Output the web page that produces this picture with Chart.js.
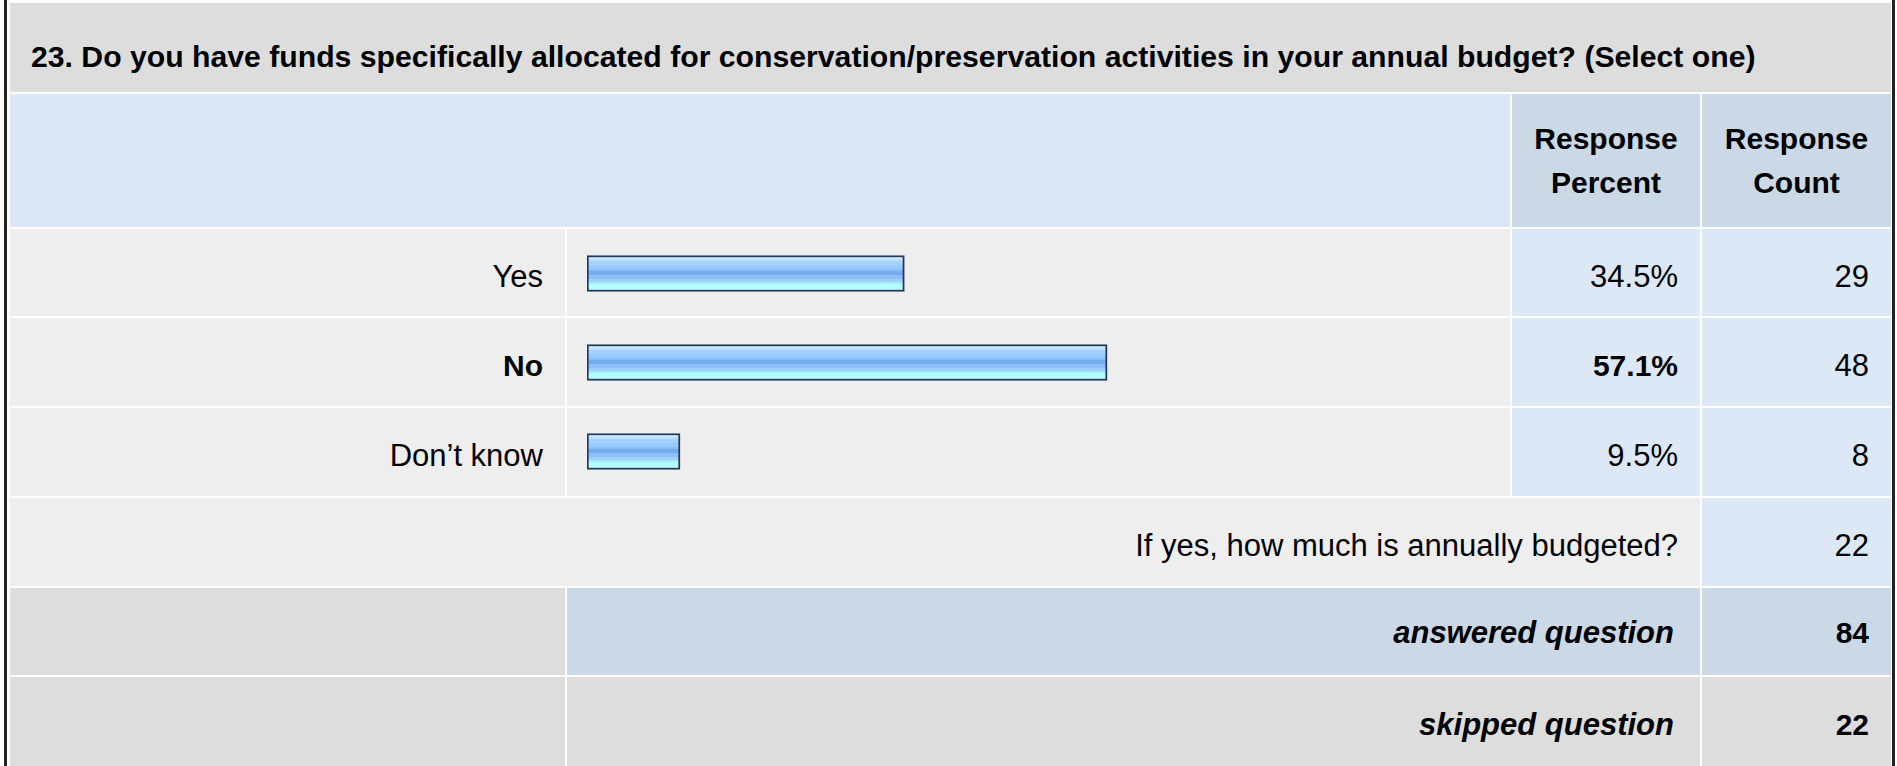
<!DOCTYPE html>
<html><head><meta charset="utf-8">
<script src="https://cdn.jsdelivr.net/npm/chart.js@4.4.1/dist/chart.umd.min.js"></script>
<style>
html,body{margin:0;padding:0;background:#fff;width:1897px;height:766px;overflow:hidden;font-family:"Liberation Sans",Arial,Helvetica,sans-serif;color:#000}
.c{position:absolute;display:flex;align-items:center;box-sizing:border-box;font-size:31px;white-space:nowrap}
.r{justify-content:flex-end;padding-right:22px}
.l{justify-content:flex-start;padding-left:21px}
.ctr{justify-content:center;text-align:center;line-height:44px}
.b{font-weight:bold;font-size:30px}
.i{font-style:italic;font-size:31px;padding-right:26px}
.frame{position:absolute;top:0;height:766px;width:3px;background:#222}
#chartBox{position:absolute;left:587px;top:229px;width:905px;height:267px}
</style></head><body>
<div id="root"></div>
<div class="frame" style="left:4px"></div><div class="frame" style="left:1892px"></div>
<div id="chartBox"><canvas id="chart"></canvas></div>
<script>
// ---- data ----
const questionTitle = "23. Do you have funds specifically allocated for conservation/preservation activities in your annual budget? (Select one)";
const categories = ["Yes", "No", "Don\u2019t know"];
const responsePercent = [34.5, 57.1, 9.5];
const responseCount = [29, 48, 8];
const headerLabels = ["Response\nPercent", "Response\nCount"];
const otherLabel = "If yes, how much is annually budgeted?";
const otherCount = 22;
const summaryLabels = ["answered question", "skipped question"];
const summaryCounts = [84, 22];

// ---- layout ----
const X = {L0:10, L1:565, B0:567, B1:1510, P0:1512, P1:1700, C0:1702, C1:1891};
const dataRows = [[229,316],[318,406],[408,496]];
const root = document.getElementById('root');
function cell(x0,x1,y0,y1,bg,cls,txt,padTop){
  const d=document.createElement('div');
  d.className='c '+(cls||'');
  d.style.left=x0+'px'; d.style.width=(x1-x0)+'px';
  d.style.top=y0+'px'; d.style.height=(y1-y0)+'px';
  d.style.background=bg;
  if(padTop) d.style.paddingTop=padTop+'px';
  if(txt!==undefined) d.textContent=txt;
  root.appendChild(d); return d;
}
const t = cell(X.L0,X.C1,3,92,'#dddddd','l b',questionTitle,18);
t.style.fontSize='30.2px';
cell(X.L0,X.B1,94,227,'#dce7f5','');
cell(X.P0,X.P1,94,227,'#cbd8e6','ctr b').innerHTML=headerLabels[0].replace('\n','<br>');
cell(X.C0,X.C1,94,227,'#cbd8e6','ctr b').innerHTML=headerLabels[1].replace('\n','<br>');
const maxP = Math.max(...responsePercent);
categories.forEach((c,i)=>{
  const [y0,y1]=dataRows[i];
  const bold = responsePercent[i]===maxP ? ' b':'';
  cell(X.L0,X.L1,y0,y1,'#eeeeee','r'+bold,c,8);
  cell(X.B0,X.B1,y0,y1,'#eeeeee','');
  cell(X.P0,X.P1,y0,y1,'#dce8f5','r'+bold,responsePercent[i].toFixed(1)+'%',8);
  cell(X.C0,X.C1,y0,y1,'#dce8f5','r',String(responseCount[i]),8);
});
cell(X.L0,X.P1,498,586,'#eeeeee','r',otherLabel,7);
cell(X.C0,X.C1,498,586,'#dce8f5','r',String(otherCount),7);
cell(X.L0,X.L1,588,675,'#dddddd','');
cell(X.B0,X.P1,588,675,'#cbd8e6','r b i',summaryLabels[0],3);
cell(X.C0,X.C1,588,675,'#cbd8e6','r b',String(summaryCounts[0]),3);
cell(X.L0,X.L1,677,766,'#dddddd','');
cell(X.B0,X.P1,677,766,'#dddddd','r b i',summaryLabels[1],6);
cell(X.C0,X.C1,677,766,'#dddddd','r b',String(summaryCounts[1]),6);

// ---- chart ----
const BAR = 36;
const AXIS_MIN = -0.87;   // small stub so every bar shows a minimum length, as in the source
const bands = [[0,'#d2e9ff'],[2,'#bfdeff'],[4,'#a6d1ff'],[8,'#9acbff'],[12,'#8abef8'],[14,'#76abee'],[18,'#8cc0fa'],[22,'#9ecfff'],[25,'#a9e8ff'],[27,'#b2ffff'],[32,'#b2ffff']];
function barFill(ctx){
  const chart=ctx.chart, area=chart.chartArea;
  const n=categories.length;
  if(!area || ctx.dataIndex===undefined || !isFinite(area.top) || !isFinite(area.height)) return '#99c9ff';
  const cy=area.top+(ctx.dataIndex+0.5)*area.height/n;
  if(!isFinite(cy)) return '#99c9ff';
  const top=cy-BAR/2+2, h=BAR-4;
  const g=chart.ctx.createLinearGradient(0,top,0,top+h);
  for(let k=0;k<bands.length-1;k++){
    g.addColorStop(bands[k][0]/h,bands[k][1]);
    g.addColorStop(Math.min(1,bands[k+1][0]/h-0.0001),bands[k][1]);
  }
  return g;
}
const chart = new Chart(document.getElementById('chart'),{
  type:'bar',
  data:{labels:categories,datasets:[{data:responsePercent,base:AXIS_MIN,backgroundColor:barFill,borderColor:'#1f3a5d',borderWidth:2,borderSkipped:false,barThickness:BAR}]},
  options:{indexAxis:'y',responsive:true,maintainAspectRatio:false,animation:false,events:[],
    layout:{padding:0},
    plugins:{legend:{display:false},tooltip:{enabled:false}},
    scales:{x:{display:false,min:AXIS_MIN,max:100},y:{display:false}}}
});
chart.update('none');
</script>
</body></html>
